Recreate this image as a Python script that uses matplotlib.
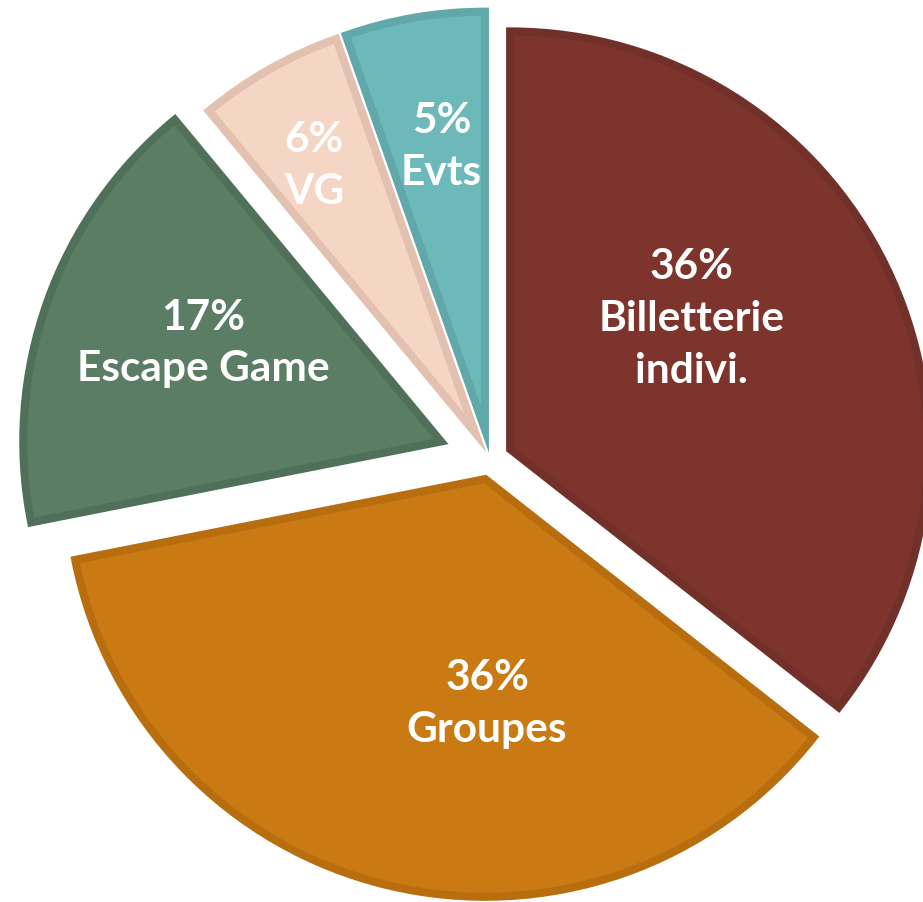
import matplotlib
matplotlib.use("Agg")
import matplotlib.pyplot as plt
import numpy as np

# slice data (clockwise from the top)
labels = ["Billetterie\nindivi.", "Groupes", "Escape Game", "VG", "Evts"]
values = [35.6, 36.3, 17.1, 5.6, 5.4]
colors = ["#7D342C", "#C97A12", "#5A7D63", "#F5D5C3", "#6DB9BA"]
edge_colors = ["#72302A", "#B86E0F", "#50705A", "#E2C1B1", "#62A8AA"]
explode = [0.053, 0.049, 0.123, 0.071, 0.071]

# label placement: distance from wedge tip (in radii) and angle nudge (deg)
label_dist = [0.53, 0.53, 0.61, 0.74, 0.68]
label_nudge = [10, 14, -3, 1.5, -1]

fig = plt.figure(figsize=(9.23, 9.03), dpi=100)
ax = fig.add_axes([0, 0, 1, 1])

wedges, _ = ax.pie(values, colors=colors, explode=explode, startangle=90,
                   counterclock=False, radius=0.99,
                   wedgeprops=dict(linewidth=5.8, joinstyle="miter"))

total = sum(values)
for w, ec, lab, v, d, nd in zip(wedges, edge_colors, labels, values,
                                 label_dist, label_nudge):
    w.set_edgecolor(ec)
    mid = np.deg2rad((w.theta1 + w.theta2) / 2 + nd)
    cx, cy = w.center
    ax.text(cx + d * np.cos(mid), cy + d * np.sin(mid),
            f"{round(v / total * 100):.0f}%\n{lab}",
            ha="center", va="center", color="white", fontsize=30.5,
            fontweight="bold", family="Lato", linespacing=1.45)

ax.set_xlim(-1.161, 1.026)
ax.set_ylim(-1.050, 1.090)
ax.set_aspect("auto")
ax.axis("off")

fig.savefig("out.png", dpi=100)
